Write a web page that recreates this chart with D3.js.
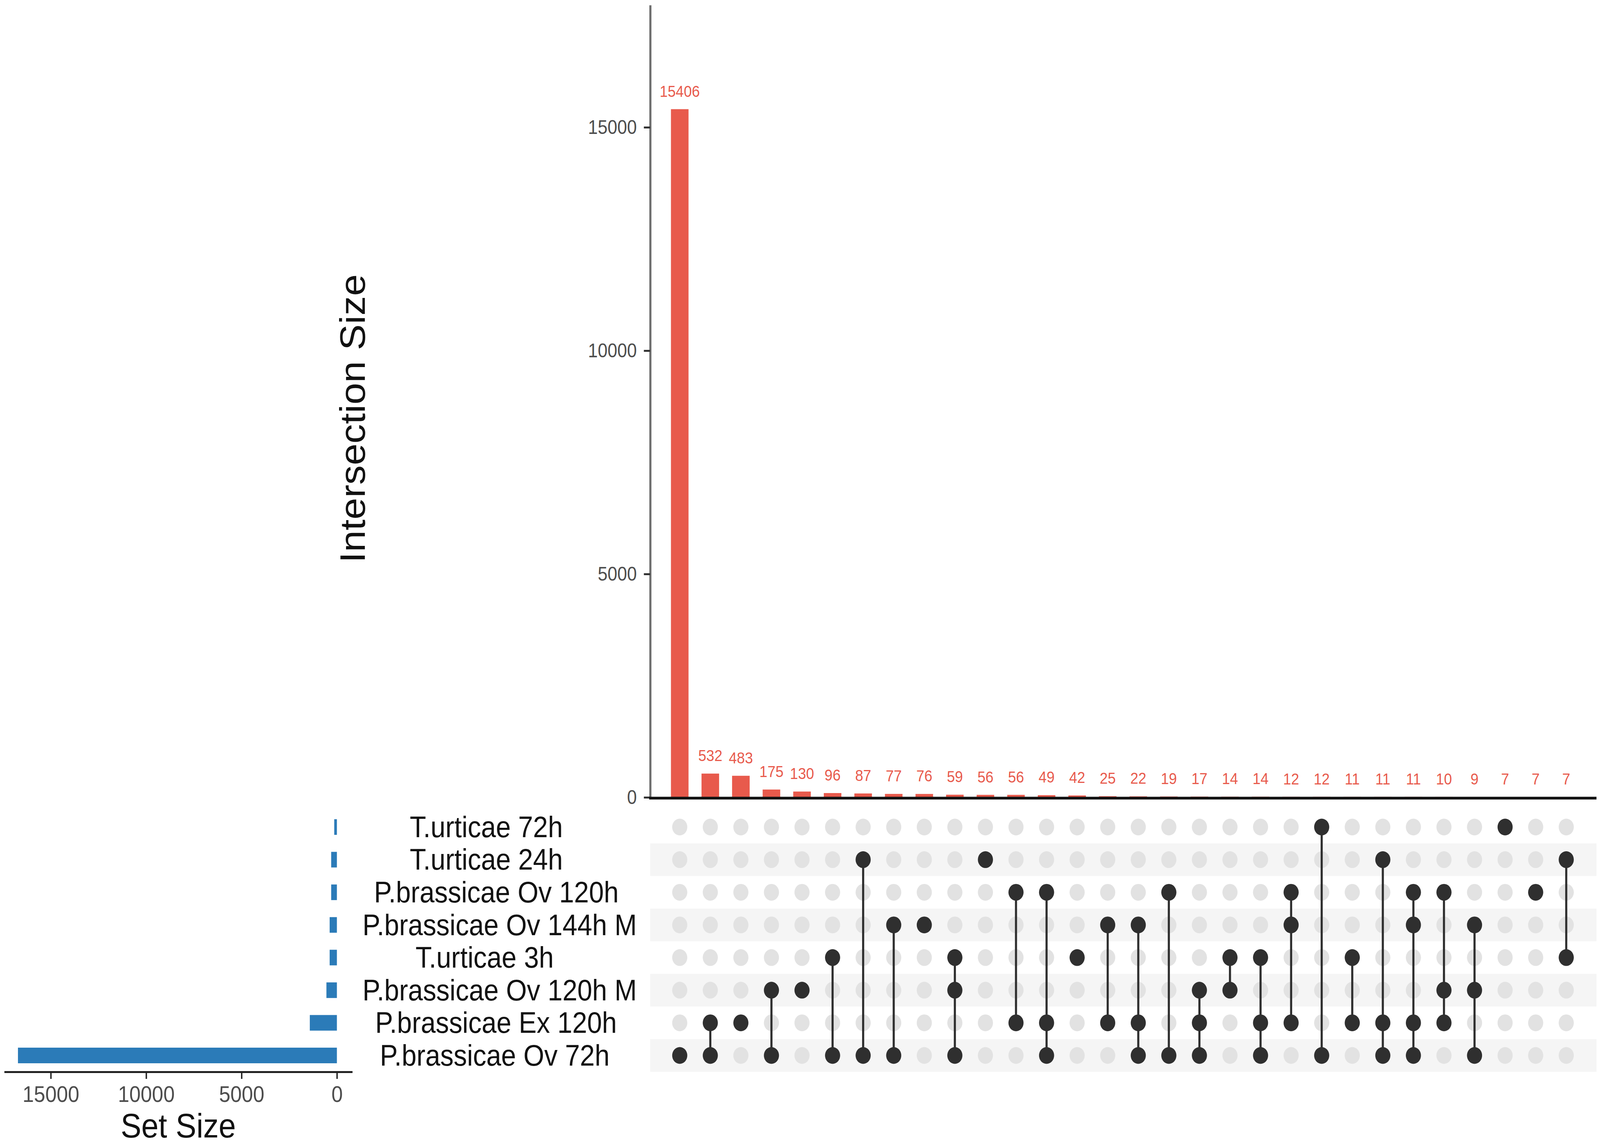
<!DOCTYPE html>
<html>
<head>
<meta charset="utf-8">
<script src="https://cdn.jsdelivr.net/npm/d3@7.9.0/dist/d3.min.js"></script>
<style>
  html, body { margin: 0; padding: 0; background: #fff; overflow: hidden; }
  svg { display: block; width: 100vw; height: 100vh; }
  text { font-family: "Liberation Sans", Arial, sans-serif; }
</style>
</head>
<body>
<svg id="chart" viewBox="0 0 4550 2940" preserveAspectRatio="none"></svg>
<script>
// Sets, top row to bottom row of the matrix
const sets = [
  "T.urticae 72h",
  "T.urticae 24h",
  "P.brassicae Ov 120h",
  "P.brassicae Ov 144h M",
  "T.urticae 3h",
  "P.brassicae Ov 120h M",
  "P.brassicae Ex 120h",
  "P.brassicae Ov 72h"
];
const setSizes = [140, 300, 300, 380, 380, 550, 1420, 16720];

// Intersections, left to right
const intersectionSizes = [15406, 532, 483, 175, 130, 96, 87, 77, 76, 59, 56, 56, 49, 42, 25,
  22, 19, 17, 14, 14, 12, 12, 11, 11, 11, 10, 9, 7, 7, 7];
// members of each intersection, as indexes into sets
const intersectionMembers = [
  [7], [6, 7], [6], [5, 7], [5], [4, 7], [1, 7], [3, 7], [3], [4, 5, 7],
  [1], [2, 6], [2, 6, 7], [4], [3, 6], [3, 6, 7], [2, 7], [5, 6, 7], [4, 5], [4, 6, 7],
  [2, 3, 6], [0, 7], [4, 6], [1, 6, 7], [2, 3, 6, 7], [2, 5, 6], [3, 5, 7], [0], [2], [1, 4]
];

const intersectionTicks = [0, 5000, 10000, 15000];
const setSizeTicks = [0, 5000, 10000, 15000];

/******************************************************
 * Layout + scales
 ******************************************************/
const svg = d3.select("#chart");
const red = "#E85A4C", blue = "#2B7BB8", dark = "#2F2F2F", light = "#E2E2E2";
const matrixLeft = 1849, matrixRight = 4540;

const xCol = d3.scalePoint()
  .domain(d3.range(intersectionSizes.length))
  .range([1933, 4454]);
const yInt = d3.scaleLinear().domain([0, 17736]).range([2042, 13]);
const yRow = d3.scalePoint().domain(d3.range(sets.length)).range([2118, 2703]);
const rowStep = yRow.step();
const xSet = d3.scaleLinear().domain([-810, 17440]).range([1002, 12]);

/******************************************************
 * Matrix stripes
 ******************************************************/
svg.append("g").selectAll("rect")
  .data(d3.range(sets.length).filter(i => i % 2 === 1))
  .join("rect")
  .attr("x", matrixLeft)
  .attr("width", matrixRight - matrixLeft)
  .attr("y", i => yRow(i) - rowStep / 2)
  .attr("height", rowStep)
  .attr("fill", "#F5F5F5");

/******************************************************
 * Intersection bars
 ******************************************************/
const barG = svg.append("g");
barG.selectAll("rect")
  .data(intersectionSizes)
  .join("rect")
  .attr("x", (d, i) => xCol(i) - 25)
  .attr("width", 50)
  .attr("y", d => yInt(d))
  .attr("height", d => yInt(0) - yInt(d))
  .attr("fill", red);

barG.selectAll("text")
  .data(intersectionSizes)
  .join("text")
  .attr("x", (d, i) => xCol(i))
  .attr("y", d => yInt(d) - 32)
  .attr("text-anchor", "middle")
  .attr("fill", red)
  .style("font-size", "41px")
  .text(d => d);

// y axis
const yAxis = svg.append("g")
  .attr("transform", `translate(${matrixLeft},0)`)
  .call(d3.axisLeft(yInt).tickValues(intersectionTicks).tickFormat(d3.format("d"))
    .tickSize(18).tickSizeOuter(0).tickPadding(20));
yAxis.select(".domain").attr("stroke", "#6E6E6E").attr("stroke-width", 6);
yAxis.selectAll(".tick line").attr("stroke", "#333").attr("stroke-width", 5);
yAxis.selectAll(".tick text")
  .attr("fill", "#4D4D4D")
  .style("font-size", "50px")
  .style("font-family", "'Liberation Sans', Arial, sans-serif");

// baseline
svg.append("line")
  .attr("x1", matrixLeft - 3).attr("x2", matrixRight)
  .attr("y1", yInt(0) + 2).attr("y2", yInt(0) + 2)
  .attr("stroke", "#111").attr("stroke-width", 7);

svg.append("text")
  .attr("transform", `translate(1038,1072) rotate(-90)`)
  .attr("text-anchor", "middle")
  .attr("fill", "#111")
  .style("font-size", "100px")
  .text("Intersection Size");

/******************************************************
 * Matrix dots + connectors
 ******************************************************/
const cells = [];
intersectionMembers.forEach((m, i) => {
  sets.forEach((s, r) => cells.push({ col: i, row: r, on: m.includes(r) }));
});

const dotG = svg.append("g");
dotG.selectAll("circle")
  .data(cells)
  .join("circle")
  .attr("cx", d => xCol(d.col))
  .attr("cy", d => yRow(d.row))
  .attr("r", 21.5)
  .attr("fill", d => d.on ? dark : light);

dotG.selectAll("line")
  .data(intersectionMembers.map((m, i) => ({ col: i, lo: d3.min(m), hi: d3.max(m) }))
    .filter(d => d.hi > d.lo))
  .join("line")
  .attr("x1", d => xCol(d.col)).attr("x2", d => xCol(d.col))
  .attr("y1", d => yRow(d.lo)).attr("y2", d => yRow(d.hi))
  .attr("stroke", dark)
  .attr("stroke-width", 6);

/******************************************************
 * Set labels
 ******************************************************/
svg.append("g").selectAll("text")
  .data(sets)
  .join("text")
  .attr("y", (d, i) => yRow(i))
  .attr("dy", "0.34em")
  .attr("fill", "#111")
  .style("font-size", "76px")
  .text(d => d)
  .each(function () {
    const w = this.getComputedTextLength();
    d3.select(this).attr("x", 1335 - 0.39 * w);
  });

/******************************************************
 * Set size bars
 ******************************************************/
svg.append("g").selectAll("rect")
  .data(setSizes)
  .join("rect")
  .attr("x", d => xSet(d))
  .attr("width", d => xSet(0) - xSet(d))
  .attr("y", (d, i) => yRow(i) - 20)
  .attr("height", 40)
  .attr("fill", blue);

const setAxis = svg.append("g")
  .attr("transform", "translate(0,2745)")
  .call(d3.axisBottom(xSet).tickValues(setSizeTicks).tickFormat(d3.format("d"))
    .tickSize(18).tickSizeOuter(0).tickPadding(18));
setAxis.select(".domain").attr("stroke", "#222").attr("stroke-width", 5);
setAxis.selectAll(".tick line").attr("stroke", "#222").attr("stroke-width", 4);
setAxis.selectAll(".tick text")
  .attr("fill", "#4D4D4D")
  .style("font-size", "58px")
  .style("font-family", "'Liberation Sans', Arial, sans-serif");

svg.append("text")
  .attr("x", 507)
  .attr("y", 2913)
  .attr("text-anchor", "middle")
  .attr("fill", "#111")
  .style("font-size", "88px")
  .text("Set Size");
</script>
</body>
</html>
